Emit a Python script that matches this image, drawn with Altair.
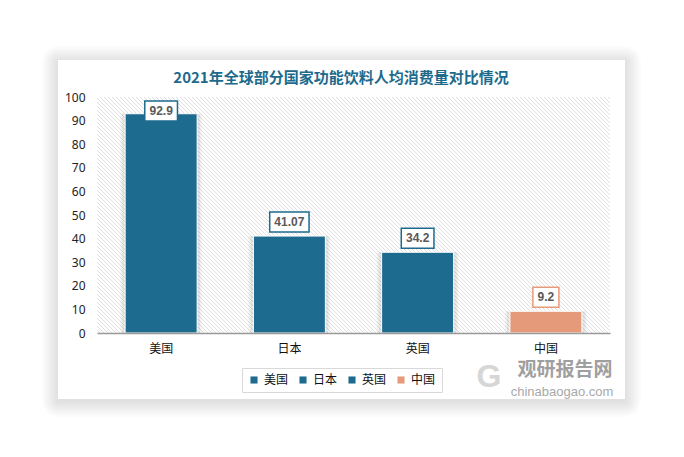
import altair as alt
import pandas as pd

# ---- data ----
countries = ["美国", "日本", "英国", "中国"]
values = [92.9, 41.07, 34.2, 9.2]
bar_colors = ["#1d6b8e", "#1d6b8e", "#1d6b8e", "#e59b7a"]
title_text = "2021年全球部分国家功能饮料人均消费量对比情况"
y_ticks = list(range(0, 101, 10))

df = pd.DataFrame({"country": countries, "value": values})
one = pd.DataFrame({"k": [0]})

W, H = 513, 236

xenc = alt.X(
    "country:N", sort=countries, title=None,
    scale=alt.Scale(paddingInner=0.44, paddingOuter=0.22),
    axis=alt.Axis(labelAngle=0, ticks=False, domainColor="#9a9a9a", domainWidth=1.5,
                  labelPadding=10, labelFontSize=12, labelColor="#111111",
                  labelFont="Noto Sans CJK SC", zindex=1),
)
yscale = alt.Scale(domain=[0, 100], nice=False)
yaxis = alt.Axis(values=y_ticks, domain=False, ticks=False, grid=False, labelPadding=12,
                 labelFontSize=12, labelColor="#222222", labelFont="Noto Sans", zindex=1)

layers = []

# card shadow + card
card = dict(x0=-39, x1=528, y0=-37, y1=302)
for i in range(10, 0, -1):
    d = i * 1.6
    layers.append(
        alt.Chart(one).mark_rect(color="black", opacity=0.013, cornerRadius=d).encode(
            x=alt.value(card["x0"] - d), x2=alt.value(card["x1"] + d),
            y=alt.value(card["y0"] - d + 2), y2=alt.value(card["y1"] + d + 2))
    )
layers.append(
    alt.Chart(one).mark_rect(color="white").encode(
        x=alt.value(card["x0"]), x2=alt.value(card["x1"]),
        y=alt.value(card["y0"]), y2=alt.value(card["y1"]))
)

# hatched plot background via striped gradient (lines along x - y = const)
period = 4.0
span = W + H
n = int(span / period) + 1
dt = period / span
stops = []
for i in range(n):
    for frac, col in [(0.0, "#ffffff"), (0.5, "#ffffff"), (0.68, "#c9c9c9"), (0.86, "#ffffff")]:
        t = (i + frac) * dt
        if t <= 1.0:
            stops.append(alt.GradientStop(offset=t, color=col))
k = (W + H) / (W * W + H * H)
grad = alt.LinearGradient(gradient="linear", stops=stops,
                          x1=0, y1=1, x2=k * W, y2=1 - k * H)
layers.append(
    alt.Chart(one).mark_rect(fill=grad).encode(
        x=alt.value(0), x2=alt.value(W), y=alt.value(0), y2=alt.value(H))
)

# bar shadows
for sz, op in [(82, 0.04), (78, 0.06)]:
    layers.append(
        alt.Chart(df).mark_bar(color="black", opacity=op).encode(
            x=xenc, y=alt.Y("value:Q", scale=yscale, axis=yaxis, title=None),
            size=alt.value(sz))
    )

# bars
layers.append(
    alt.Chart(df).mark_bar(stroke="white", strokeWidth=1).encode(
        x=xenc,
        y=alt.Y("value:Q", scale=yscale, axis=yaxis, title=None),
        color=alt.Color("country:N", sort=countries,
                        scale=alt.Scale(domain=countries, range=bar_colors),
                        legend=alt.Legend(title=None)),
        size=alt.value(72),
    )
)

boxed = alt.Chart(df).transform_calculate(
    label="'' + datum.value",
    bw="length('' + datum.value) * 6.67 + 6",
    btop="min(datum.value + 10.2, 98.3)",
).transform_calculate(
    bbot="datum.btop - 8.5",
    bmid="datum.btop - 4.25",
)

# label boxes
layers.append(
    boxed.mark_bar(fill="white", strokeWidth=1.5).encode(
        x=xenc,
        y=alt.Y("btop:Q", scale=yscale, axis=yaxis, title=None),
        y2="bbot:Q",
        size=alt.Size("bw:Q", scale=None),
        stroke=alt.Stroke("country:N", sort=countries,
                          scale=alt.Scale(domain=countries, range=bar_colors), legend=None),
    )
)
# label text
layers.append(
    boxed.mark_text(font="Liberation Sans", fontSize=12, fontWeight="bold",
                    color="#595959", baseline="middle", align="center").encode(
        x=xenc,
        y=alt.Y("bmid:Q", scale=yscale, axis=yaxis, title=None),
        text="label:N",
    )
)

# title
layers.append(
    alt.Chart(pd.DataFrame({"t": [title_text]})).mark_text(
        font="Noto Sans CJK SC", fontSize=15, fontWeight="bold", color="#1d6a8c",
        align="center", baseline="middle").encode(
        x=alt.value(244), y=alt.value(-19), text="t:N")
)

# watermark
layers.append(
    alt.Chart(pd.DataFrame({"t": ["观研报告网"]})).mark_text(
        font="Noto Sans CJK SC", fontSize=19, fontWeight="bold", color="#8f8f8f",
        opacity=0.85, align="center", baseline="middle").encode(
        x=alt.value(468), y=alt.value(273), text="t:N")
)
layers.append(
    alt.Chart(pd.DataFrame({"t": ["chinabaogao.com"]})).mark_text(
        font="Liberation Sans", fontSize=13, color="#9a9a9a",
        opacity=0.85, align="center", baseline="middle").encode(
        x=alt.value(465), y=alt.value(295), text="t:N")
)
layers.append(
    alt.Chart(pd.DataFrame({"t": ["G"]})).mark_text(
        font="Liberation Sans", fontSize=32, fontWeight="bold", color="#cccccc",
        opacity=0.8, align="center", baseline="middle").encode(
        x=alt.value(392), y=alt.value(280), text="t:N")
)

chart = alt.layer(*layers).properties(
    width=W, height=H,
    padding={"left": 97, "top": 97, "right": 74, "bottom": 124},
    autosize=alt.AutoSizeParams(type="none"),
    background="white",
).configure_view(stroke=None).configure_legend(
    orient="none", legendX=145, legendY=271, direction="horizontal",
    strokeColor="#d9d9d9", fillColor="white", padding=6,
    symbolType="square", symbolSize=50, symbolStrokeWidth=0,
    labelFontSize=12, labelFont="Noto Sans CJK SC", labelColor="#111111",
    columnPadding=8, labelOffset=4,
)

chart.save("out.html", embed_options={"renderer": "svg", "actions": False})
